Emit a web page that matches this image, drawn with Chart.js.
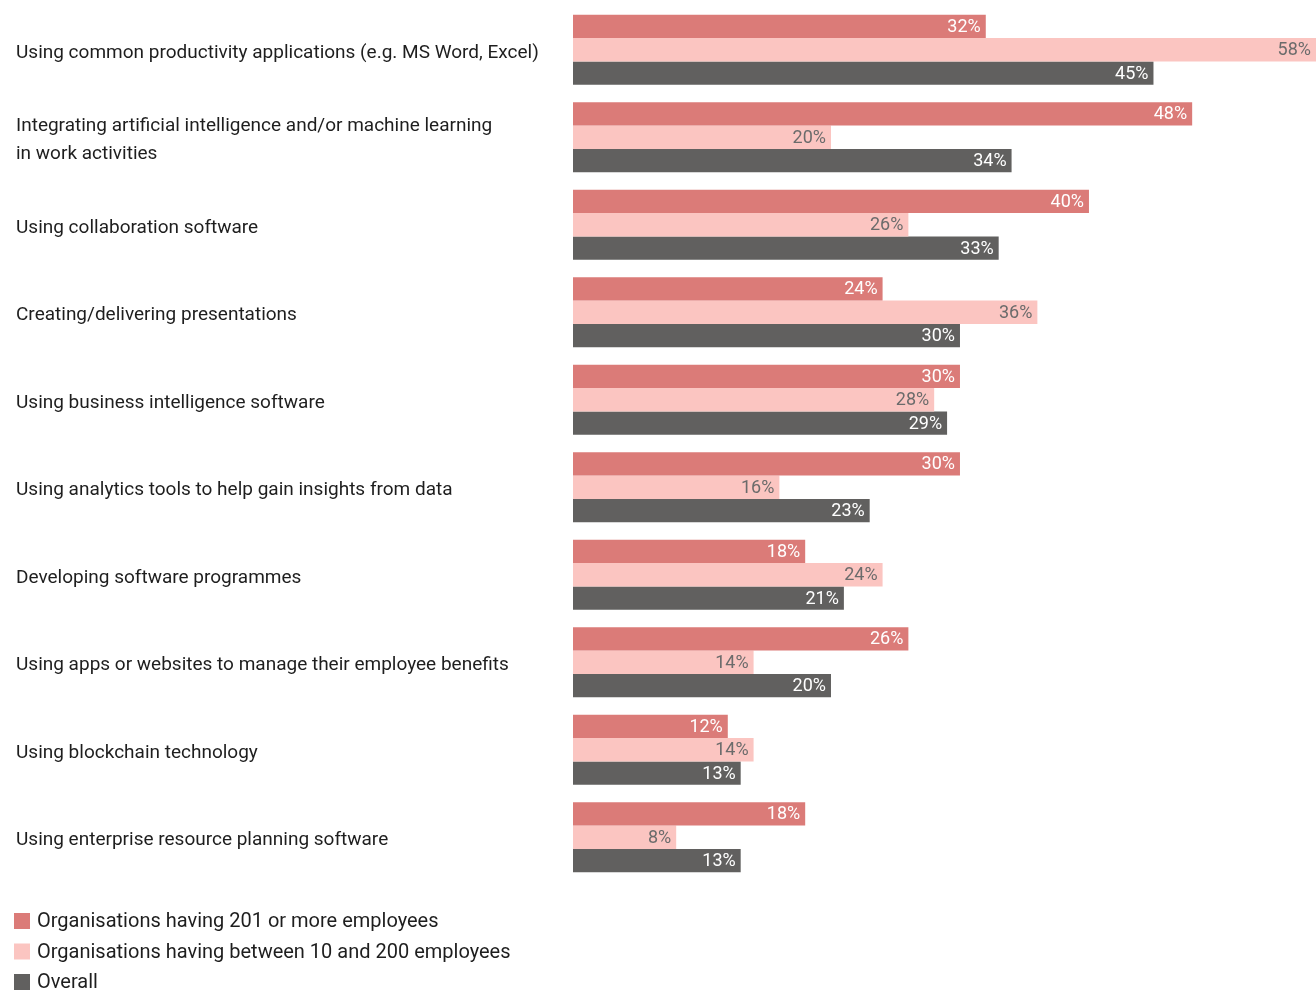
<!DOCTYPE html>
<html>
<head>
<meta charset="utf-8">
<script src="https://cdn.jsdelivr.net/npm/chart.js@4.4.1/dist/chart.umd.min.js"></script>
<style>
  body { margin: 0; background: #fff; }
</style>
</head>
<body>
<canvas id="myChart" width="1316" height="990"></canvas>
<script>
const categories = [
  "Using common productivity applications (e.g. MS Word, Excel)",
  ["Integrating artificial intelligence and/or machine learning", "in work activities"],
  "Using collaboration software",
  "Creating/delivering presentations",
  "Using business intelligence software",
  "Using analytics tools to help gain insights from data",
  "Developing software programmes",
  "Using apps or websites to manage their employee benefits",
  "Using blockchain technology",
  "Using enterprise resource planning software",
];
const seriesNames = [
  "Organisations having 201 or more employees",
  "Organisations having between 10 and 200 employees",
  "Overall",
];
const large = [32, 48, 40, 24, 30, 30, 18, 26, 12, 18];
const small = [58, 20, 26, 36, 28, 16, 24, 14, 14, 8];
const overall = [45, 34, 33, 30, 29, 23, 21, 20, 13, 13];

const colors = ["#db7b78", "#fbc5c1", "#61605f"];
const labelColors = ["#ffffff", "#6b6b6b", "#ffffff"];
const FONT = "Roboto, 'Noto Sans', sans-serif";

// percentage text at the end of every bar
const valueLabels = {
  id: "valueLabels",
  afterDatasetsDraw(chart) {
    const ctx = chart.ctx;
    const area = chart.chartArea;
    ctx.save();
    ctx.font = "18px " + FONT;
    ctx.textAlign = "right";
    ctx.textBaseline = "middle";
    chart.data.datasets.forEach((ds, i) => {
      const meta = chart.getDatasetMeta(i);
      meta.data.forEach((bar, j) => {
        const x = Math.min(bar.x, area.right) - 5;
        ctx.fillStyle = labelColors[i];
        ctx.fillText(ds.data[j] + "%", x, bar.y + 1);
      });
    });
    ctx.restore();
  },
};

// legend as a vertical list under the chart
const listLegend = {
  id: "listLegend",
  afterDraw(chart) {
    const ctx = chart.ctx;
    ctx.save();
    ctx.font = "20px " + FONT;
    ctx.textBaseline = "middle";
    ctx.textAlign = "left";
    chart.data.datasets.forEach((ds, i) => {
      const y = 921 + i * 30.5;
      ctx.fillStyle = ds.backgroundColor;
      ctx.fillRect(14, y - 8, 16, 16);
      ctx.fillStyle = "#1e1e1e";
      ctx.fillText(ds.label, 37, y + 1);
    });
    ctx.restore();
  },
};

const data = {
  labels: categories,
  datasets: [large, small, overall].map((values, i) => ({
    label: seriesNames[i],
    data: values,
    backgroundColor: colors[i],
    borderWidth: 0,
    categoryPercentage: 0.8,
    barPercentage: 1.0,
  })),
};

const config = {
  type: "bar",
  data: data,
  options: {
    indexAxis: "y",
    responsive: false,
    animation: false,
    layout: {
      padding: { left: 16, right: 0, top: 6, bottom: 109 },
    },
    scales: {
      x: {
        display: false,
        min: 0,
        max: 57.6,
      },
      y: {
        grid: { display: false },
        border: { display: false },
        afterFit: (scale) => {
          scale.width = 557;
          scale.paddingTop = 0;
          scale.paddingBottom = 0;
        },
        ticks: {
          crossAlign: "far",
          color: "#1e1e1e",
          font: { family: FONT, size: 19, lineHeight: 1.45 },
          labelOffset: 3,
          padding: 0,
        },
      },
    },
    plugins: {
      legend: { display: false },
      tooltip: { enabled: false },
    },
  },
  plugins: [valueLabels, listLegend],
};

const ctx = document.getElementById("myChart").getContext("2d");
const myChart = new Chart(ctx, config);
</script>
</body>
</html>
